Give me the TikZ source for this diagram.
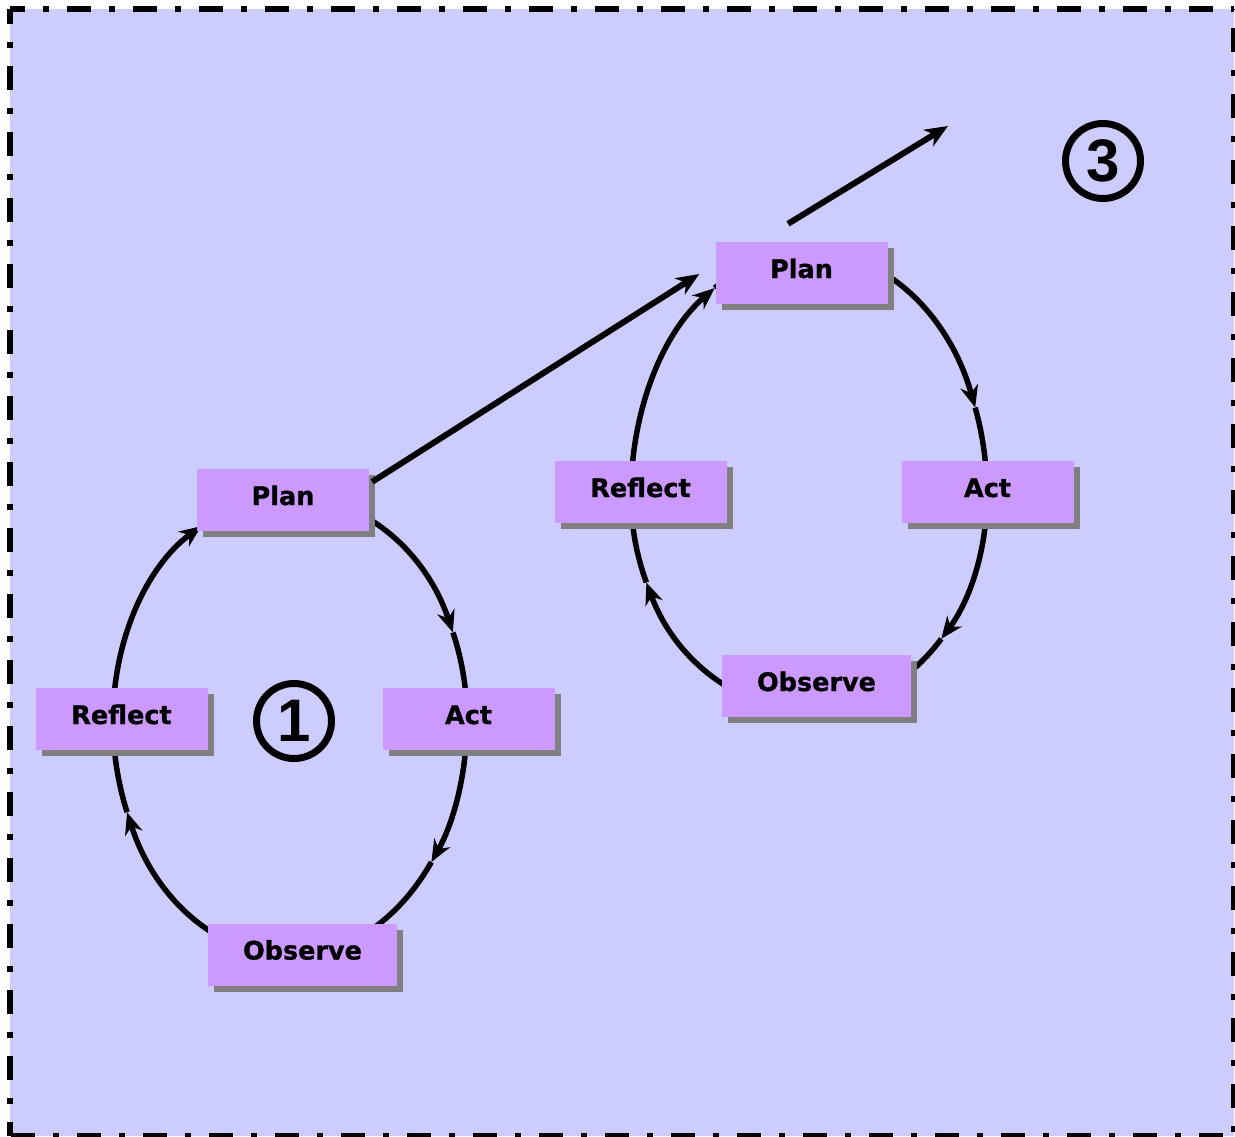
\documentclass[tikz,border=0pt]{standalone}
\usepackage{fontspec}
\newfontfamily\stagefont{DejaVu Sans Bold}[FakeBold=1]
\newfontfamily\numfont{Liberation Sans Bold}
\usetikzlibrary{arrows.meta,shadows}

\definecolor{panel}{HTML}{CCCCFF}
\definecolor{stagefill}{HTML}{CC99FF}
\definecolor{stageshadow}{HTML}{808080}

\begin{document}
\begin{tikzpicture}[x=1pt,y=1pt,
  stage/.style={fill=stagefill, minimum width=172pt, minimum height=62pt,
    inner sep=0pt, text height=18pt, text depth=8pt,
    font=\stagefont\fontsize{25.5}{30}\selectfont,
    general shadow={fill=stageshadow, shadow xshift=6pt, shadow yshift=-6pt}},
  wide/.style={minimum width=189pt},
  cyc/.style={line width=5.5pt},
  tipped/.style={line width=5.5pt, -{Stealth[length=22pt,width=18pt,inset=7pt]}},
  jump/.style={line width=6pt, -{Stealth[length=23pt,width=19pt,inset=7pt]}},
  marker/.style={circle, draw, line width=7pt, minimum size=75pt, inner sep=0pt,
    font=\numfont\fontsize{60}{60}\selectfont},
  frame/.style={line width=6pt, dash pattern=on 24pt off 18pt on 6pt off 18pt}]

\useasboundingbox (0,0) rectangle (1235,-1137);

% panel and its dash-dot frame
\fill[panel] (10,-9) rectangle (1234,-1136);
\draw[frame, dash phase=9pt]  (10,-9) -- (1234,-9);
\draw[frame, dash phase=9pt]  (10,-9) -- (10,-1136);
\draw[frame, dash phase=38pt] (1234,-1136) -- (1234,-9);
\draw[frame, dash phase=55pt] (1234,-1136) -- (10,-1136);

% centres of the two cycles
\coordinate (e1) at (290,-720);
\coordinate (e2) at (809,-495);

% first cycle
\draw[tipped] (e1) ++(90:177 and 224) arc[start angle=90, end angle=23, x radius=177pt, y radius=224pt];
\draw[cyc]    (e1) ++(23:177 and 224) arc[start angle=23, end angle=0, x radius=177pt, y radius=224pt];
\draw[tipped] (e1) ++(0:177 and 236) arc[start angle=0, end angle=-37, x radius=177pt, y radius=236pt];
\draw[cyc]    (e1) ++(-37:177 and 236) arc[start angle=-37, end angle=-90, x radius=177pt, y radius=236pt];
\draw[tipped] (e1) ++(-90:177 and 236) arc[start angle=-90, end angle=-157, x radius=177pt, y radius=236pt];
\draw[cyc]    (e1) ++(-157:177 and 236) arc[start angle=-157, end angle=-180, x radius=177pt, y radius=236pt];
\draw[tipped] (e1) ++(-180:177 and 224) arc[start angle=-180, end angle=-240, x radius=177pt, y radius=224pt];
\draw[cyc]    (e1) ++(-240:177 and 224) arc[start angle=-240, end angle=-270, x radius=177pt, y radius=224pt];

% second cycle
\draw[tipped] (e2) ++(90:178 and 244) arc[start angle=90, end angle=21, x radius=178pt, y radius=244pt];
\draw[cyc]    (e2) ++(21:178 and 244) arc[start angle=21, end angle=0, x radius=178pt, y radius=244pt];
\draw[tipped] (e2) ++(0:178 and 215) arc[start angle=0, end angle=-42, x radius=178pt, y radius=215pt];
\draw[cyc]    (e2) ++(-42:178 and 215) arc[start angle=-42, end angle=-90, x radius=178pt, y radius=215pt];
\draw[tipped] (e2) ++(-90:178 and 215) arc[start angle=-90, end angle=-156, x radius=178pt, y radius=215pt];
\draw[cyc]    (e2) ++(-156:178 and 215) arc[start angle=-156, end angle=-180, x radius=178pt, y radius=215pt];
\draw[tipped] (e2) ++(-180:178 and 244) arc[start angle=-180, end angle=-238, x radius=178pt, y radius=244pt];
\draw[cyc]    (e2) ++(-238:178 and 244) arc[start angle=-238, end angle=-270, x radius=178pt, y radius=244pt];

% stages
\node[stage] (plan1)    at (283,-500)   {Plan};
\node[stage] (act1)     at (468.5,-719) {Act};
\node[stage, wide] (observe1) at (302.5,-954.5) {Observe};
\node[stage] (reflect1) at (121.5,-719) {Reflect};

\node[stage] (plan2)    at (801.5,-273) {Plan};
\node[stage] (act2)     at (987.5,-492) {Act};
\node[stage, wide] (observe2) at (816.5,-686) {Observe};
\node[stage] (reflect2) at (640.5,-492) {Reflect};

% cycle markers
\node[marker] (m1) at (294,-721)  {1};
\node[marker] (m3) at (1103,-161) {3};

% links between cycles
\coordinate (onward) at (948,-126);
\draw[jump] ([shift={(3,-13)}]plan1.north east) -- ([shift={(-16,-1)}]plan2.west);
\draw[jump] ([shift={(-13.5,18)}]plan2.north) -- (onward);
\end{tikzpicture}
\end{document}
